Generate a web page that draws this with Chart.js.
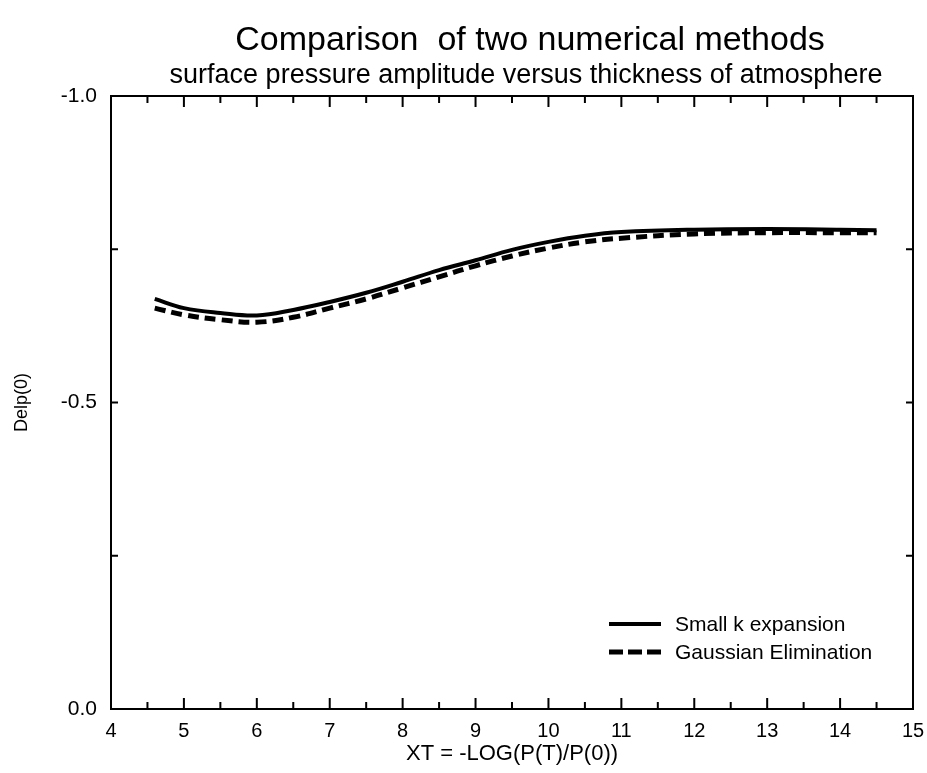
<!DOCTYPE html>
<html>
<head>
<meta charset="utf-8">
<script src="https://cdn.jsdelivr.net/npm/chart.js@4/dist/chart.umd.min.js"></script>
<style>
  html, body { margin: 0; padding: 0; background: #fff; }
  #wrap { width: 927px; height: 773px; }
</style>
</head>
<body>
<div id="wrap"><canvas id="chart" width="927" height="773"></canvas></div>
<script>
const xValues = [4.6, 5.0, 5.5, 6.0, 6.5, 7.0, 7.5, 8.0, 8.5, 9.0, 9.5, 10.0, 10.5, 11.0, 12.0, 13.0, 14.0, 14.5];
const smallK = [-0.669, -0.654, -0.646, -0.642, -0.651, -0.664, -0.679, -0.697, -0.716, -0.732, -0.749, -0.762, -0.772, -0.778, -0.782, -0.783, -0.782, -0.781];
const gaussian = [-0.654, -0.643, -0.635, -0.631, -0.639, -0.654, -0.669, -0.687, -0.705, -0.723, -0.739, -0.752, -0.762, -0.768, -0.775, -0.777, -0.777, -0.777];

const titleText = "Comparison  of two numerical methods";
const subtitleText = "surface pressure amplitude versus thickness of atmosphere";
const xTitle = "XT = -LOG(P(T)/P(0))";
const yTitle = "Delp(0)";

const FONT = "'Liberation Sans', Arial, Helvetica, sans-serif";

function toPoints(ys) {
  return xValues.map((x, i) => ({ x: x, y: ys[i] }));
}

// frame, inward ticks on all four sides, titles and the legend
const decorations = {
  id: 'decorations',
  afterDatasetsDraw(chart) {
    const ctx = chart.ctx;
    const a = chart.chartArea;
    const xs = chart.scales.x;
    const ys = chart.scales.y;
    ctx.save();
    ctx.strokeStyle = '#000';
    ctx.lineWidth = 2;
    ctx.strokeRect(a.left, a.top, a.right - a.left, a.bottom - a.top);

    ctx.beginPath();
    for (let v = xs.min; v <= xs.max + 1e-9; v += 0.5) {
      const px = xs.getPixelForValue(v);
      const len = Math.abs(v - Math.round(v)) < 1e-6 ? 11 : 7;
      ctx.moveTo(px, a.bottom); ctx.lineTo(px, a.bottom - len);
      ctx.moveTo(px, a.top); ctx.lineTo(px, a.top + len);
    }
    for (let v = ys.min; v <= ys.max + 1e-9; v += 0.25) {
      const py = ys.getPixelForValue(v);
      ctx.moveTo(a.left, py); ctx.lineTo(a.left + 7, py);
      ctx.moveTo(a.right, py); ctx.lineTo(a.right - 7, py);
    }
    ctx.stroke();

    // legend
    let ly = 624;
    chart.data.datasets.forEach((ds, i) => {
      ctx.beginPath();
      ctx.lineWidth = ds.borderWidth;
      ctx.setLineDash(i === 0 ? [] : [14, 5]);
      ctx.moveTo(609, ly); ctx.lineTo(661, ly);
      ctx.stroke();
      ctx.setLineDash([]);
      ctx.fillStyle = '#000';
      ctx.font = '21px ' + FONT;
      ctx.textAlign = 'left';
      ctx.textBaseline = 'middle';
      ctx.fillText(ds.label, 675, ly + 1);
      ly += 28;
    });
    ctx.restore();
  },
  afterDraw(chart) {
    const ctx = chart.ctx;
    ctx.save();
    ctx.fillStyle = '#000';
    ctx.textAlign = 'center';
    ctx.textBaseline = 'alphabetic';
    ctx.font = '34px ' + FONT;
    ctx.fillText(titleText, 530, 50);
    ctx.font = '27px ' + FONT;
    ctx.fillText(subtitleText, 526, 83);
    ctx.font = '22px ' + FONT;
    ctx.fillText(xTitle, 512, 760);
    ctx.restore();
  }
};

new Chart(document.getElementById('chart'), {
  type: 'line',
  data: {
    datasets: [{
      label: 'Small k expansion',
      data: toPoints(smallK),
      borderColor: '#000',
      borderWidth: 4,
      pointRadius: 0,
      tension: 0.4,
      fill: false
    }, {
      label: 'Gaussian Elimination',
      data: toPoints(gaussian),
      borderColor: '#000',
      borderWidth: 5,
      borderDash: [11, 6],
      borderCapStyle: 'butt',
      pointRadius: 0,
      tension: 0.4,
      fill: false
    }]
  },
  options: {
    responsive: false,
    animation: false,
    layout: { padding: { top: 96, right: 14, bottom: 0, left: 0 } },
    plugins: {
      legend: { display: false },
      tooltip: { enabled: false },
      title: { display: false }
    },
    scales: {
      x: {
        type: 'linear',
        min: 4,
        max: 15,
        grid: { display: false, drawTicks: false },
        border: { display: false },
        ticks: {
          stepSize: 1,
          padding: 10,
          color: '#000',
          font: { family: FONT, size: 20 },
          maxRotation: 0
        },
        afterFit(scale) {
          scale.height = 64;
          scale.paddingLeft = 0;
          scale.paddingRight = 0;
        }
      },
      y: {
        type: 'linear',
        min: -1,
        max: 0,
        reverse: true,
        grid: { display: false, drawTicks: false },
        border: { display: false },
        title: {
          display: true,
          text: yTitle,
          color: '#000',
          font: { family: FONT, size: 18 },
          padding: { top: 11, bottom: 0 }
        },
        ticks: {
          stepSize: 0.5,
          padding: 14,
          color: '#000',
          font: { family: FONT, size: 21 },
          callback: v => (Math.abs(v) < 1e-9 ? 0 : v).toFixed(1)
        },
        afterFit(scale) {
          scale.width = 111;
          scale.paddingTop = 0;
          scale.paddingBottom = 0;
        }
      }
    }
  },
  plugins: [decorations]
});
</script>
</body>
</html>
